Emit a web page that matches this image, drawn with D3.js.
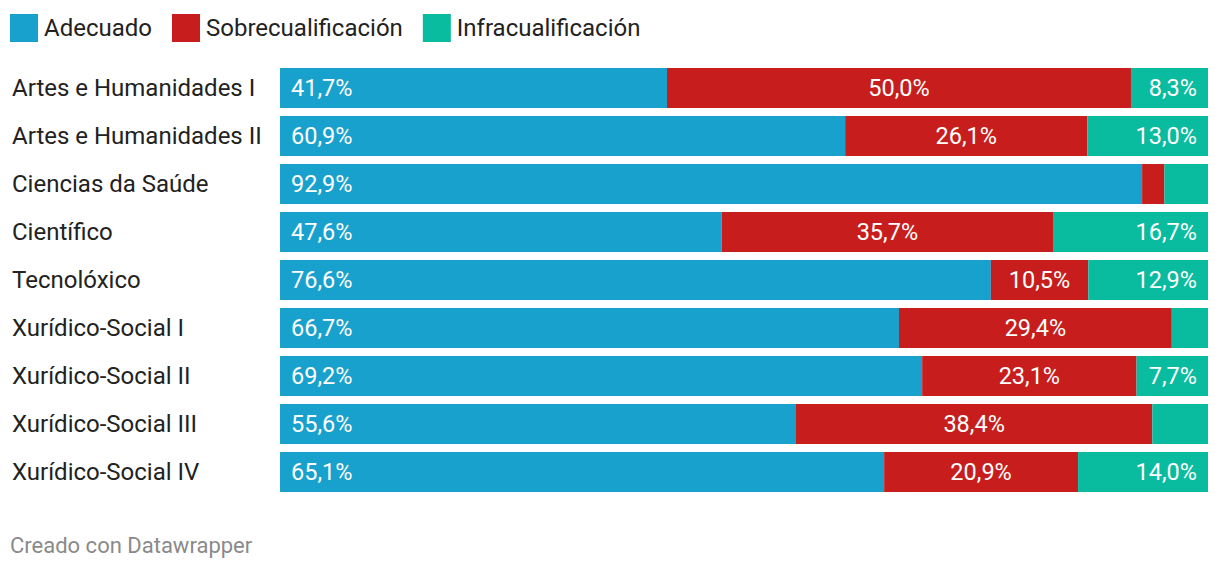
<!DOCTYPE html>
<html>
<head>
<meta charset="utf-8">
<script src="https://cdn.jsdelivr.net/npm/d3@7"></script>
<style>
  html, body { margin: 0; padding: 0; background: #fff; }
  svg { display: block; font-family: Roboto, sans-serif; }
</style>
</head>
<body>
<svg id="chart" width="1220" height="570"></svg>
<script>
const categories = ["Artes e Humanidades I","Artes e Humanidades II","Ciencias da Saúde","Científico","Tecnolóxico","Xurídico-Social I","Xurídico-Social II","Xurídico-Social III","Xurídico-Social IV"];
const seriesNames = ["Adecuado","Sobrecualificación","Infracualificación"];
const adecuado = [41.7, 60.9, 92.9, 47.6, 76.6, 66.7, 69.2, 55.6, 65.1];
const sobrecualificacion = [50.0, 26.1, 2.4, 35.7, 10.5, 29.4, 23.1, 38.4, 20.9];
const infracualificacion = [8.3, 13.0, 4.7, 16.7, 12.9, 3.9, 7.7, 6.0, 14.0];
const colors = ["#18a1cd", "#c71e1d", "#09bb9f"];
const footer = "Creado con Datawrapper";

const svg = d3.select("#chart");

const data = categories.map((c, i) => ({cat: c, vals: [adecuado[i], sobrecualificacion[i], infracualificacion[i]]}));
const x = d3.scaleLinear().domain([0, 100]).range([280, 1208]);
const y = d3.scaleBand().domain(categories).range([64, 496]).paddingInner(8/48).paddingOuter(4/48);

// legend
const legend = svg.append("g");
let lx = 10;
seriesNames.forEach((s, i) => {
  const g = legend.append("g");
  g.append("rect").attr("x", lx).attr("y", 14).attr("width", 28).attr("height", 28).attr("fill", colors[i]);
  const t = g.append("text").attr("x", lx + 34).attr("y", 28).attr("dy", "0.35em")
    .attr("font-size", 24).attr("fill", "#222").text(s);
  lx += 34 + t.node().getComputedTextLength() + 20;
});

// rows
const rows = svg.append("g").selectAll("g").data(data).join("g");
rows.append("text")
  .attr("x", 12).attr("y", d => y(d.cat) + y.bandwidth()/2).attr("dy", "0.35em")
  .attr("font-size", 24).attr("fill", "#222").text(d => d.cat);

const fmt = v => d3.format(".1f")(v).replace(".", ",") + "%";

rows.each(function(d) {
  const g = d3.select(this);
  let cum = 0;
  d.vals.forEach((v, i) => {
    const x0 = x(cum), x1 = x(cum + v);
    cum += v;
    g.append("rect").attr("x", x0).attr("y", y(d.cat)).attr("width", Math.max(0, x1 - x0))
      .attr("height", y.bandwidth()).attr("fill", colors[i]);
    const t = g.append("text").attr("y", y(d.cat) + y.bandwidth()/2).attr("dy", "0.35em")
      .attr("font-size", 23.5).attr("fill", "#fff").text(fmt(v));
    if (i === 0) t.attr("x", x0 + 11).attr("text-anchor", "start");
    else if (i === 1) t.attr("x", (x0 + x1)/2).attr("text-anchor", "middle");
    else t.attr("x", x1 - 11).attr("text-anchor", "end");
    const tw = t.node().getComputedTextLength();
    if (tw + 18 > x1 - x0) t.remove();
  });
});

svg.append("text").attr("x", 10).attr("y", 545).attr("dy", "0.35em")
  .attr("font-size", 22).attr("fill", "#8a8a8a").text(footer);
</script>
</body>
</html>
